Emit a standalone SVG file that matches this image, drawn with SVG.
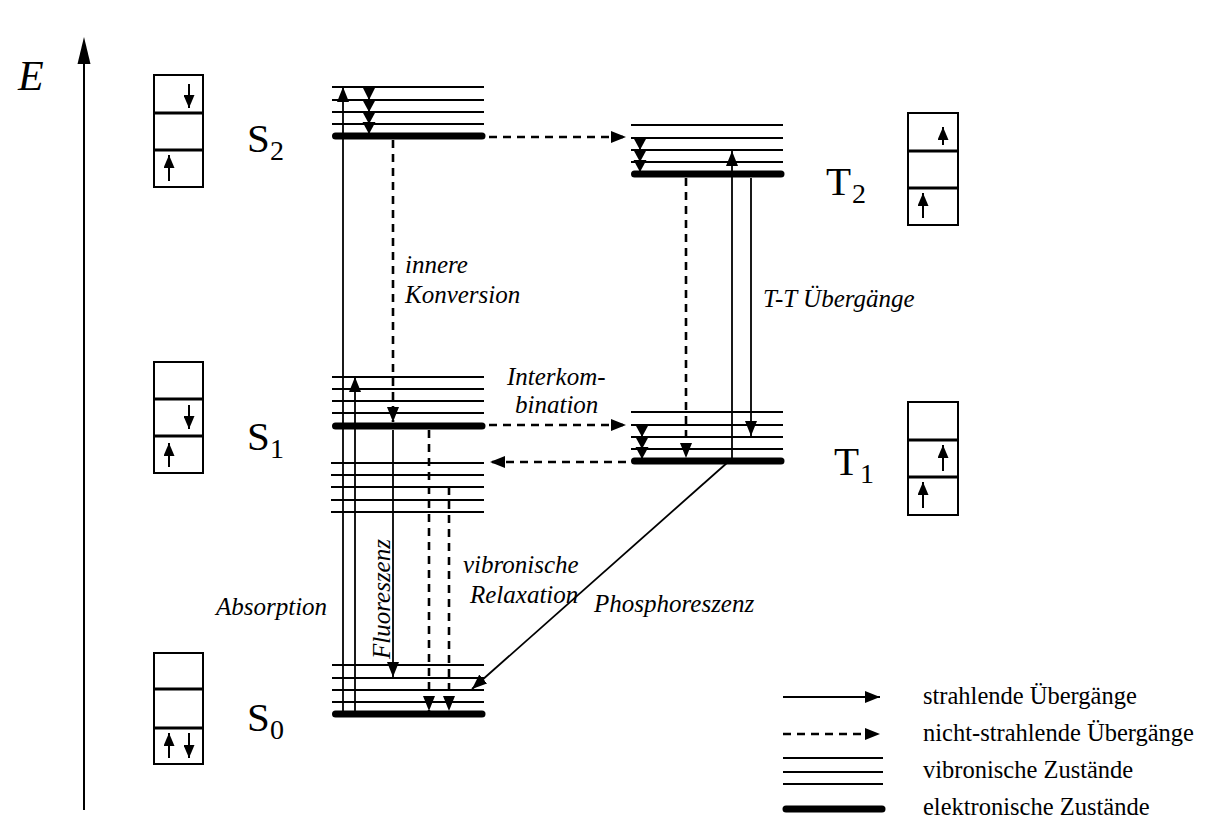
<svg xmlns="http://www.w3.org/2000/svg" width="1209" height="825" viewBox="0 0 1209 825">
<style>
.lvl{stroke:#000;stroke-width:1.8;fill:none}
.thk{stroke:#000;stroke-width:7;stroke-linecap:round;fill:none}
.sol{stroke:#000;stroke-width:1.8;fill:none}
.dsh{stroke:#000;stroke-width:2.6;stroke-dasharray:8,6;fill:none}
.box{stroke:#000;stroke-width:2;fill:#fff}
.div{stroke:#000;stroke-width:3}
.sm{stroke:#000;stroke-width:2;fill:none}
.hd{fill:#000}
text{font-family:'Liberation Serif','Times New Roman',Times,'Tinos','DejaVu Serif','Noto Serif',serif}
</style>
<defs>
<marker id="ah" viewBox="0 0 15 12" refX="15" refY="6" markerWidth="15" markerHeight="12" markerUnits="userSpaceOnUse" orient="auto"><path d="M0,0 L15,6 L0,12 z" fill="#000"/></marker>
<marker id="ahs" viewBox="0 0 13 11" refX="13" refY="5.5" markerWidth="13" markerHeight="11" markerUnits="userSpaceOnUse" orient="auto"><path d="M0,0 L13,5.5 L0,11 z" fill="#000"/></marker>
</defs>
<rect width="1209" height="825" fill="#fff"/>

<g id="axis">
<line x1="84" y1="810" x2="84" y2="58" stroke="#000" stroke-width="2"/>
<polygon points="84,37 77.5,64 90.5,64" fill="#000"/>
<text x="18" y="90" font-style="italic" font-size="42">E</text>
</g>

<g id="S2">
<line class="lvl" x1="332" y1="87" x2="484" y2="87"/>
<line class="lvl" x1="332" y1="100" x2="484" y2="100"/>
<line class="lvl" x1="332" y1="112" x2="484" y2="112"/>
<line class="lvl" x1="332" y1="124" x2="484" y2="124"/>
<line class="thk" x1="335.5" y1="136" x2="482" y2="136"/>
<text font-size="41" x="247" y="152">S</text><text font-size="28" x="270" y="160">2</text>
</g>
<g id="S1">
<line class="lvl" x1="332" y1="377" x2="484" y2="377"/>
<line class="lvl" x1="332" y1="389" x2="484" y2="389"/>
<line class="lvl" x1="332" y1="401" x2="484" y2="401"/>
<line class="lvl" x1="332" y1="413" x2="484" y2="413"/>
<line class="thk" x1="335.5" y1="426" x2="482" y2="426"/>
<text font-size="41" x="247" y="450">S</text><text font-size="28" x="270" y="458">1</text>
</g>
<g id="S0">
<line class="lvl" x1="331" y1="463" x2="484" y2="463"/>
<line class="lvl" x1="331" y1="475" x2="484" y2="475"/>
<line class="lvl" x1="331" y1="487" x2="484" y2="487"/>
<line class="lvl" x1="331" y1="500" x2="484" y2="500"/>
<line class="lvl" x1="331" y1="512" x2="484" y2="512"/>
<line class="lvl" x1="332" y1="665" x2="484" y2="665"/>
<line class="lvl" x1="332" y1="678" x2="484" y2="678"/>
<line class="lvl" x1="332" y1="690" x2="484" y2="690"/>
<line class="lvl" x1="332" y1="702" x2="484" y2="702"/>
<line class="thk" x1="335.5" y1="714" x2="482" y2="714"/>
<text font-size="41" x="247" y="731">S</text><text font-size="28" x="270" y="739">0</text>
</g>
<g id="T2">
<line class="lvl" x1="631" y1="125" x2="783" y2="125"/>
<line class="lvl" x1="631" y1="138" x2="783" y2="138"/>
<line class="lvl" x1="631" y1="150" x2="783" y2="150"/>
<line class="lvl" x1="631" y1="162" x2="783" y2="162"/>
<line class="thk" x1="634.5" y1="174" x2="781" y2="174"/>
<text font-size="41" x="826" y="195">T</text><text font-size="28" x="852" y="203">2</text>
</g>
<g id="T1">
<line class="lvl" x1="631" y1="412" x2="783" y2="412"/>
<line class="lvl" x1="631" y1="425" x2="783" y2="425"/>
<line class="lvl" x1="631" y1="437" x2="783" y2="437"/>
<line class="lvl" x1="631" y1="449" x2="783" y2="449"/>
<line class="thk" x1="634.5" y1="461" x2="781" y2="461"/>
<text font-size="41" x="834" y="475">T</text><text font-size="28" x="860" y="483">1</text>
</g>

<g id="box-S2">
<rect class="box" x="154" y="75" width="49" height="112"/>
<line class="div" x1="154" y1="113" x2="203" y2="113"/>
<line class="div" x1="154" y1="150" x2="203" y2="150"/>
<line class="sm" x1="189" y1="84" x2="189" y2="108" marker-end="url(#ahs)"/>
<line class="sm" x1="169" y1="181" x2="169" y2="155" marker-end="url(#ahs)"/>
</g>
<g id="box-S1">
<rect class="box" x="154" y="362" width="49" height="111"/>
<line class="div" x1="154" y1="399" x2="203" y2="399"/>
<line class="div" x1="154" y1="436" x2="203" y2="436"/>
<line class="sm" x1="189" y1="405" x2="189" y2="429" marker-end="url(#ahs)"/>
<line class="sm" x1="169" y1="467" x2="169" y2="443" marker-end="url(#ahs)"/>
</g>
<g id="box-S0">
<rect class="box" x="154" y="653" width="49" height="111"/>
<line class="div" x1="154" y1="689" x2="203" y2="689"/>
<line class="div" x1="154" y1="728" x2="203" y2="728"/>
<line class="sm" x1="169" y1="758" x2="169" y2="733" marker-end="url(#ahs)"/>
<line class="sm" x1="189" y1="733" x2="189" y2="758" marker-end="url(#ahs)"/>
</g>
<g id="box-T2">
<rect class="box" x="908" y="113" width="50" height="112"/>
<line class="div" x1="908" y1="151" x2="958" y2="151"/>
<line class="div" x1="908" y1="188" x2="958" y2="188"/>
<line class="sm" x1="943" y1="145" x2="943" y2="127" marker-end="url(#ahs)"/>
<line class="sm" x1="923" y1="218" x2="923" y2="193" marker-end="url(#ahs)"/>
</g>
<g id="box-T1">
<rect class="box" x="908" y="402" width="50" height="113"/>
<line class="div" x1="908" y1="440" x2="958" y2="440"/>
<line class="div" x1="908" y1="477" x2="958" y2="477"/>
<line class="sm" x1="943" y1="471" x2="943" y2="445" marker-end="url(#ahs)"/>
<line class="sm" x1="923" y1="508" x2="923" y2="482" marker-end="url(#ahs)"/>
</g>

<g id="connectors">
<line class="sol" x1="343" y1="712" x2="343" y2="87" marker-end="url(#ah)"/>
<line class="sol" x1="355" y1="712" x2="355" y2="377" marker-end="url(#ah)"/>
<line class="sol" x1="369" y1="87" x2="369" y2="133"/>
<polygon class="hd" points="362.5,87 375.5,87 369,100"/>
<polygon class="hd" points="362.5,100 375.5,100 369,112"/>
<polygon class="hd" points="362.5,112 375.5,112 369,124"/>
<polygon class="hd" points="362.5,122 375.5,122 369,134"/>
<line class="sol" x1="640" y1="138" x2="640" y2="171"/>
<polygon class="hd" points="633.5,138 646.5,138 640,150"/>
<polygon class="hd" points="633.5,150 646.5,150 640,162"/>
<polygon class="hd" points="633.5,160 646.5,160 640,172"/>
<line class="sol" x1="642" y1="425" x2="642" y2="458"/>
<polygon class="hd" points="635.5,425 648.5,425 642,437"/>
<polygon class="hd" points="635.5,437 648.5,437 642,449"/>
<polygon class="hd" points="635.5,447 648.5,447 642,459"/>
<line class="dsh" x1="393" y1="140" x2="393" y2="422" marker-end="url(#ah)"/>
<line class="sol" x1="393" y1="430" x2="393" y2="677" marker-end="url(#ah)" stroke-width="1.5"/>
<line class="dsh" x1="429" y1="430" x2="429" y2="711" marker-end="url(#ah)"/>
<line class="dsh" x1="449" y1="487" x2="449" y2="711" marker-end="url(#ah)"/>
<line class="dsh" x1="489" y1="137" x2="626" y2="137" marker-end="url(#ah)"/>
<line class="dsh" x1="489" y1="425" x2="626" y2="425" marker-end="url(#ah)"/>
<line class="dsh" x1="626" y1="462" x2="490" y2="462" marker-end="url(#ah)"/>
<line class="dsh" x1="686" y1="178" x2="686" y2="458" marker-end="url(#ah)"/>
<line class="sol" x1="732" y1="461" x2="732" y2="151" marker-end="url(#ah)"/>
<line class="sol" x1="751" y1="178" x2="751" y2="436" marker-end="url(#ah)"/>
<line class="sol" x1="728" y1="462" x2="472" y2="689" marker-end="url(#ah)"/>
</g>

<g id="labels" font-style="italic" font-size="25">
<text x="405" y="273">innere</text>
<text x="405" y="303">Konversion</text>
<text x="763" y="307">T-T Übergänge</text>
<text x="507" y="385">Interkom-</text>
<text x="515" y="413">bination</text>
<text x="463" y="573">vibronische</text>
<text x="470" y="603">Relaxation</text>
<text x="216" y="615">Absorption</text>
<text x="594" y="612">Phosphoreszenz</text>
<text transform="translate(390,599) rotate(-90)" text-anchor="middle">Fluoreszenz</text>
</g>

<g id="legend">
<line class="sol" x1="783" y1="697" x2="880" y2="697" marker-end="url(#ah)"/>
<line class="dsh" x1="783" y1="734" x2="866" y2="734"/>
<path d="M865,728 L880,734 L865,740 z" fill="#000"/>
<line class="lvl" x1="783" y1="758" x2="883" y2="758"/>
<line class="lvl" x1="783" y1="772" x2="883" y2="772"/>
<line class="lvl" x1="783" y1="784" x2="883" y2="784"/>
<line class="thk" x1="786" y1="809" x2="882" y2="809"/>
<g font-size="24.5">
<text x="923" y="704">strahlende Übergänge</text>
<text x="923" y="741">nicht-strahlende Übergänge</text>
<text x="923" y="778">vibronische Zustände</text>
<text x="923" y="815">elektronische Zustände</text>
</g>
</g>
</svg>
